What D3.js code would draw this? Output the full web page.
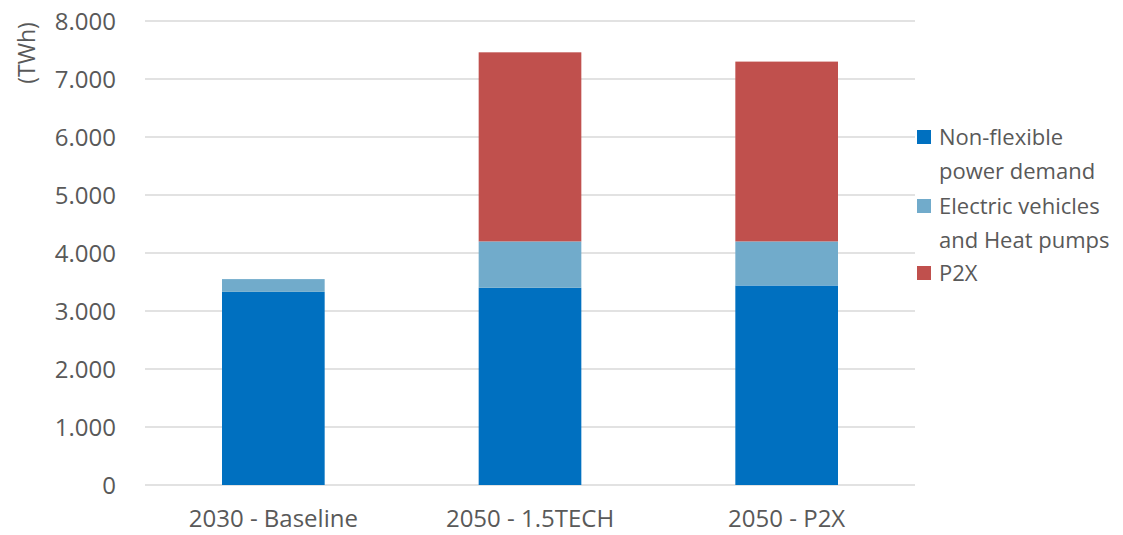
<!DOCTYPE html>
<html><head><meta charset="utf-8">
<script src="https://cdn.jsdelivr.net/npm/d3@7"></script>
<style>body{margin:0;background:#fff;} text{font-family:"Open Sans",sans-serif;fill:#595959;}</style>
</head><body><svg id="c" width="1123" height="535"></svg>
<script>
const categories = ["2030 - Baseline", "2050 - 1.5TECH", "2050 - P2X"];
const seriesNames = ["Non-flexible power demand", "Electric vehicles and Heat pumps", "P2X"];
const nonFlexible = [3330, 3400, 3440];
const evHeatPumps = [220, 800, 760];
const p2x = [0, 3260, 3100];
const yTicks = [0, 1000, 2000, 3000, 4000, 5000, 6000, 7000, 8000];
const colors = ["#0070C0", "#71ABCB", "#C0504D"];
const legendLines = [["Non-flexible", "power demand"], ["Electric vehicles", "and Heat pumps"], ["P2X"]];

const svg = d3.select("#c");
const x = d3.scaleBand().domain(categories).range([145, 915]).paddingInner(0.6).paddingOuter(0.3);
const y = d3.scaleLinear().domain([0, 8000]).range([485, 21]);

const fmt = v => v === 0 ? "0" : d3.format(",")(v).replace(/,/g, ".");

// gridlines
svg.append("g").selectAll("line").data(yTicks).join("line")
  .attr("x1", 145).attr("x2", 915)
  .attr("y1", d => y(d)).attr("y2", d => y(d))
  .attr("stroke", "#D9D9D9").attr("stroke-width", 1.5);

// y axis labels
const ya = svg.append("g").attr("transform", "translate(116,0)")
  .call(d3.axisLeft(y).tickValues(yTicks).tickFormat(fmt).tickSize(0).tickPadding(0));
ya.select(".domain").remove();
ya.selectAll("text").style("font-size", "24px").attr("fill", "#595959").attr("dy", "0.36em");

// x axis labels
const xa = svg.append("g").attr("transform", "translate(0,0)")
  .call(d3.axisBottom(x).tickSize(0).tickPadding(0));
xa.select(".domain").remove();
xa.selectAll("text").style("font-size", "24px").attr("fill", "#595959").attr("y", 527).attr("dy", 0);

svg.append("text").attr("transform", "translate(35,53) rotate(-90)")
  .attr("text-anchor", "middle").style("font-size", "23px").text("(TWh)");

const data = categories.map((c, i) => ({cat: c, s0: nonFlexible[i], s1: evHeatPumps[i], s2: p2x[i]}));
const stack = d3.stack().keys(["s0", "s1", "s2"])(data);
svg.append("g").selectAll("g").data(stack).join("g")
  .attr("fill", (d, i) => colors[i])
  .selectAll("rect").data(d => d).join("rect")
  .attr("x", d => x(d.data.cat)).attr("width", x.bandwidth())
  .attr("y", d => y(d[1])).attr("height", d => y(d[0]) - y(d[1]));

// legend
const legY = [137, 206, 273];
const lg = svg.append("g");
legendLines.forEach((lines, i) => {
  lg.append("rect").attr("x", 917).attr("y", legY[i] - 7).attr("width", 14).attr("height", 14).attr("fill", colors[i]);
  lines.forEach((t, j) => {
    lg.append("text").attr("x", 939).attr("y", legY[i] + j * 34).attr("dy", "0.35em")
      .style("font-size", "22px").text(t);
  });
});
</script></body></html>
